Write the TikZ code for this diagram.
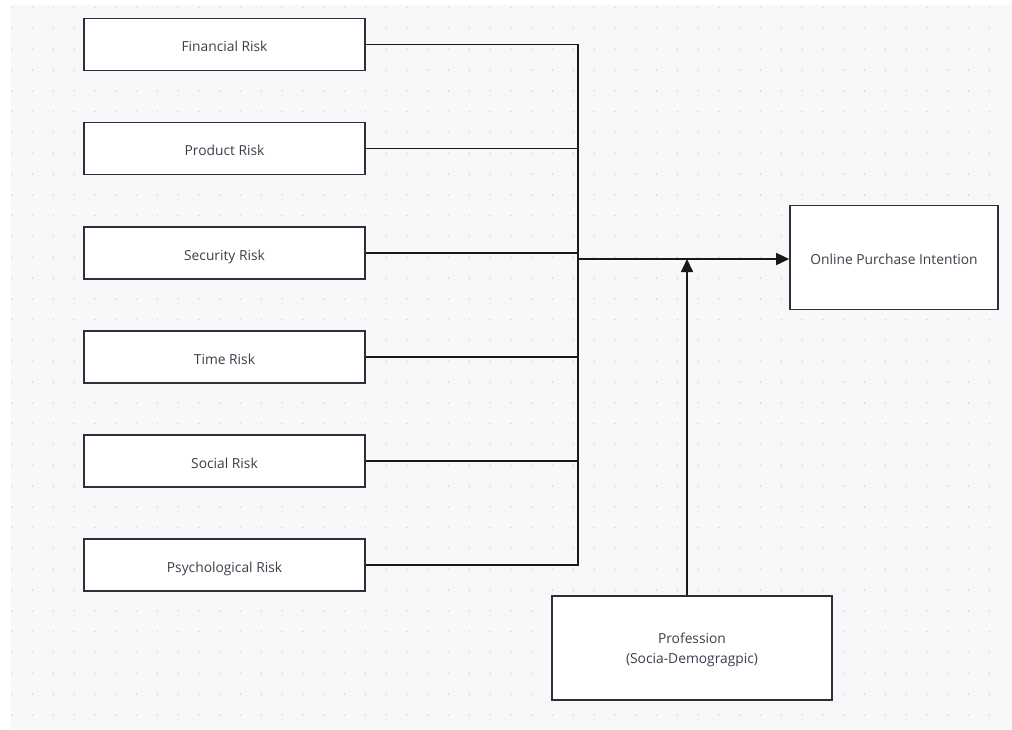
\documentclass[tikz,border=0pt]{standalone}
\usepackage{fontspec}
\setmainfont{Open Sans}
\usetikzlibrary{arrows.meta}
\definecolor{bg}{HTML}{F8F8FA}
\definecolor{dotc}{HTML}{D6D7DC}
\definecolor{edge}{HTML}{2B303A}
\definecolor{txt}{HTML}{3A3F4B}
\tikzset{
  riskbox/.style={draw=edge, line width=1.7pt, fill=white, minimum width=281pt, minimum height=52pt, inner sep=0pt, text=txt, font=\fontsize{13.8}{16}\selectfont, text height=14.5pt, text depth=0pt},
  bigbox/.style={draw=edge, line width=1.7pt, fill=white, inner sep=0pt, text=txt, font=\fontsize{13.8}{20}\selectfont, align=center},
  conn/.style={draw=black!90, line width=1.7pt},
  arr/.style={conn, -{Triangle[length=13pt,width=12pt]}}
}
\begin{document}
\begin{tikzpicture}[x=1pt,y=-1pt]
\useasboundingbox (0,0) rectangle (1012,729);
\fill[white] (0,0) rectangle (1012,729);
\fill[bg] (11,5) rectangle (1012,729);
\foreach \i in {0,...,47}{
  \foreach \j in {0,...,34}{
    \fill[dotc] (11.7+20.8*\i, 7.7+20.8*\j) circle (0.9);
  }
}
\node[riskbox] (fin) at (224.5,44.5) {Financial Risk};
\node[riskbox] (prod) at (224.5,148.5) {Product Risk};
\node[riskbox] (sec) at (224.5,253) {Security Risk};
\node[riskbox] (time) at (224.5,357) {Time Risk};
\node[riskbox] (soc) at (224.5,461) {Social Risk};
\node[riskbox] (psy) at (224.5,565) {Psychological Risk};
\node[bigbox, minimum width=208pt, minimum height=104pt, text height=13pt, text depth=0pt] (opi) at (894,257.5) {Online Purchase Intention};
\node[bigbox, minimum width=280pt, minimum height=104pt, text height=35.8pt, text depth=4pt] (prof) at (692,648) {Profession\\(Socia-Demogragpic)};
\coordinate (jt) at (578,44.5);
\coordinate (jb) at (578,565);
\coordinate (jm) at (578,259);
\coordinate (pm) at (687,259);
\draw[conn] (fin.east) -- (jt) -- (jb) -- (psy.east);
\draw[conn] (prod.east) -- (prod.east -| jt);
\draw[conn] (sec.east) -- (sec.east -| jt);
\draw[conn] (time.east) -- (time.east -| jt);
\draw[conn] (soc.east) -- (soc.east -| jt);
\draw[arr] (jm) -- (jm -| opi.west);
\draw[arr] (prof.north -| pm) -- (pm);
\end{tikzpicture}
\end{document}
